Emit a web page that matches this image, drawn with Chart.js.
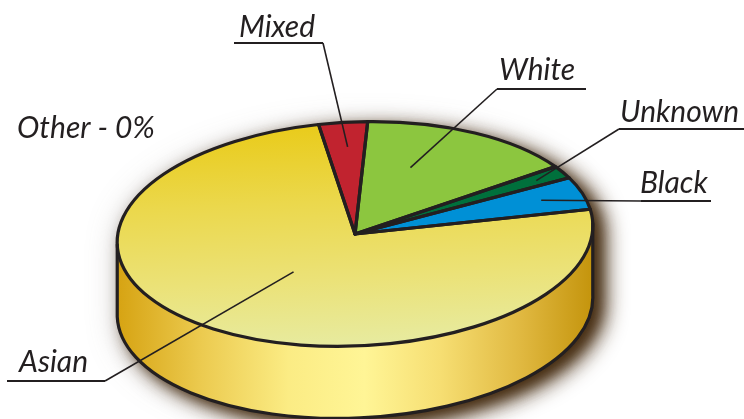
<!DOCTYPE html>
<html>
<head>
<meta charset="utf-8">
<script src="https://cdn.jsdelivr.net/npm/chart.js@4.4.1/dist/chart.umd.min.js"></script>
<style>
  html, body { margin: 0; padding: 0; background: #fff; }
  #wrap { width: 744px; height: 419px; position: relative; }
</style>
</head>
<body>
<div id="wrap"><canvas id="pie"></canvas></div>
<script>
// ====== Data ======
const categories = ['Mixed', 'White', 'Unknown', 'Black', 'Asian', 'Other'];
const shares = [3.3, 15.1, 1.9, 4.8, 74.9, 0];
const sliceColors = ['#c1232f', '#8cc63f', '#00703c', '#0090d6', '#ead84a', '#9a9a9a'];
const labelTexts = ['Mixed', 'White', 'Unknown', 'Black', 'Asian', 'Other - 0%'];
const startAngle = -7.6; // degrees, where the first slice begins

// ====== Disc geometry (layout) ======
const disc = { cx: 355, cy: 234, rx: 238, ry: 112, tilt: -0.045, depth: 72 };
const INK = '#231f20';

// text = [x, baseline], line = [x1, x2, y, joinX], at = [fraction along slice, fraction of radius]
const labelLayout = {
  Mixed:   { text: [239, 37],  line: [234, 323, 43, 323],  at: [0.55, 0.78] },
  White:   { text: [499, 80],  line: [497, 586, 89, 497],  at: [0.35, 0.62] },
  Unknown: { text: [620, 122], line: [619, 744, 129, 619], at: [0.55, 0.87] },
  Black:   { text: [640, 193], line: [641, 711, 201, 641], at: [0.49, 0.82] },
  Asian:   { text: [19, 372],  line: [7, 105, 381, 105],   at: [0.51, 0.41] },
  Other:   { text: [17, 138] }
};

// map a point on the flat pie (angle, fraction of radius) onto the tilted disc
function project(angle, frac, z) {
  const u = Math.cos(angle) * frac * disc.rx;
  const v = Math.sin(angle) * frac * disc.ry;
  const c = Math.cos(disc.tilt), s = Math.sin(disc.tilt);
  return [disc.cx + u * c - v * s, disc.cy + u * s + v * c + (z || 0)];
}

function topGradient(c) {
  const area = c.chart.chartArea;
  if (!area) return sliceColors[4];
  const g = c.chart.ctx.createLinearGradient(0, area.top, 0, area.bottom);
  g.addColorStop(0, '#e9cb1a');
  g.addColorStop(0.35, '#ebd84c');
  g.addColorStop(0.7, '#ebe278');
  g.addColorStop(1, '#e7eba0');
  return g;
}

function sideGradient(ctx) {
  const g = ctx.createLinearGradient(disc.cx - disc.rx, 0, disc.cx + disc.rx, 0);
  g.addColorStop(0, '#d6a312');
  g.addColorStop(0.18, '#eccb50');
  g.addColorStop(0.36, '#fbec84');
  g.addColorStop(0.52, '#fff596');
  g.addColorStop(0.68, '#f6de72');
  g.addColorStop(0.85, '#e0b840');
  g.addColorStop(1, '#c4940c');
  return g;
}

// ====== 3D disc plugin ======
const disc3d = {
  id: 'disc3d',
  beforeDatasetsDraw(chart) {
    const ctx = chart.ctx;
    const arcs = chart.getDatasetMeta(0).data;
    const { cx, cy, rx, ry, tilt, depth } = disc;

    // drop shadow of the whole disc (soft halo + darker cast to the lower right)
    const shadows = [
      ['rgba(120, 110, 100, 0.35)', 30, 0, 4],
      ['rgba(66, 40, 12, 0.95)', 22, 12, 8],
      ['rgba(66, 40, 12, 0.7)', 14, 8, 6]
    ];
    shadows.forEach(([col, blur, ox, oy]) => {
      ctx.save();
      ctx.beginPath();
      ctx.ellipse(cx, cy, rx, ry, tilt, Math.PI, 2 * Math.PI);
      ctx.ellipse(cx, cy + depth, rx, ry, tilt, 0, Math.PI);
      ctx.closePath();
      ctx.shadowColor = col;
      ctx.shadowBlur = blur;
      ctx.shadowOffsetX = ox;
      ctx.shadowOffsetY = oy;
      ctx.fillStyle = '#d8b030';
      ctx.fill();
      ctx.restore();
    });

    // side walls, only the front half (0..PI) is visible
    arcs.forEach((arc, i) => {
      if (arc.endAngle - arc.startAngle <= 0) return;
      for (let k = -1; k <= 1; k++) {
        const a = Math.max(arc.startAngle + 2 * Math.PI * k, 0);
        const b = Math.min(arc.endAngle + 2 * Math.PI * k, Math.PI);
        if (b <= a) continue;
        ctx.save();
        ctx.beginPath();
        ctx.ellipse(cx, cy, rx, ry, tilt, a, b);
        ctx.ellipse(cx, cy + depth, rx, ry, tilt, b, a, true);
        ctx.closePath();
        ctx.fillStyle = i === 4 ? sideGradient(ctx) : sliceColors[i];
        ctx.fill();
        ctx.restore();
      }
    });

    // squash the flat pie into the disc top
    const a0 = arcs[0];
    ctx.save();
    ctx.translate(cx, cy);
    ctx.rotate(tilt);
    ctx.scale(rx / a0.outerRadius, ry / a0.outerRadius);
    ctx.translate(-a0.x, -a0.y);
  },

  afterDatasetsDraw(chart) {
    const ctx = chart.ctx;
    ctx.restore();
    const arcs = chart.getDatasetMeta(0).data;
    const { cx, cy, rx, ry, tilt, depth } = disc;

    ctx.save();
    ctx.strokeStyle = INK;
    ctx.lineJoin = 'round';
    ctx.lineCap = 'round';
    ctx.lineWidth = 3.2;

    // side outline
    const r0 = project(0, 1), r1 = project(Math.PI, 1);
    ctx.beginPath();
    ctx.moveTo(r0[0], r0[1]);
    ctx.lineTo(r0[0], r0[1] + depth);
    ctx.ellipse(cx, cy + depth, rx, ry, tilt, 0, Math.PI);
    ctx.lineTo(r1[0], r1[1]);
    ctx.stroke();

    // slice outlines on the top face
    arcs.forEach(arc => {
      if (arc.endAngle - arc.startAngle <= 0) return;
      ctx.beginPath();
      ctx.moveTo(cx, cy);
      ctx.ellipse(cx, cy, rx, ry, tilt, arc.startAngle, arc.endAngle);
      ctx.closePath();
      ctx.stroke();
    });
    ctx.restore();

    // labels with leader lines
    ctx.save();
    ctx.fillStyle = INK;
    ctx.strokeStyle = INK;
    ctx.font = 'italic 30px Lato, "DejaVu Sans", sans-serif';
    ctx.textBaseline = 'alphabetic';
    categories.forEach((name, i) => {
      const lay = labelLayout[name];
      if (!lay) return;
      ctx.fillText(labelTexts[i], lay.text[0], lay.text[1]);
      if (!lay.line) return;
      const arc = arcs[i];
      const ang = arc.startAngle + (arc.endAngle - arc.startAngle) * lay.at[0];
      const p = project(ang, lay.at[1]);
      ctx.lineWidth = 2.2;
      ctx.beginPath();
      ctx.moveTo(lay.line[0], lay.line[2]);
      ctx.lineTo(lay.line[1], lay.line[2]);
      ctx.stroke();
      ctx.lineWidth = 1.6;
      ctx.beginPath();
      ctx.moveTo(lay.line[3], lay.line[2]);
      ctx.lineTo(p[0], p[1]);
      ctx.stroke();
    });
    ctx.restore();
  }
};

new Chart(document.getElementById('pie'), {
  type: 'pie',
  data: {
    labels: categories,
    datasets: [{
      data: shares,
      backgroundColor: (c) => c.dataIndex === 4 ? topGradient(c) : sliceColors[c.dataIndex],
      borderWidth: 0,
      clip: false
    }]
  },
  options: {
    responsive: true,
    maintainAspectRatio: false,
    animation: false,
    events: [],
    rotation: startAngle,
    layout: { padding: 0 },
    plugins: { legend: { display: false }, tooltip: { enabled: false } }
  },
  plugins: [disc3d]
});
</script>
</body>
</html>
